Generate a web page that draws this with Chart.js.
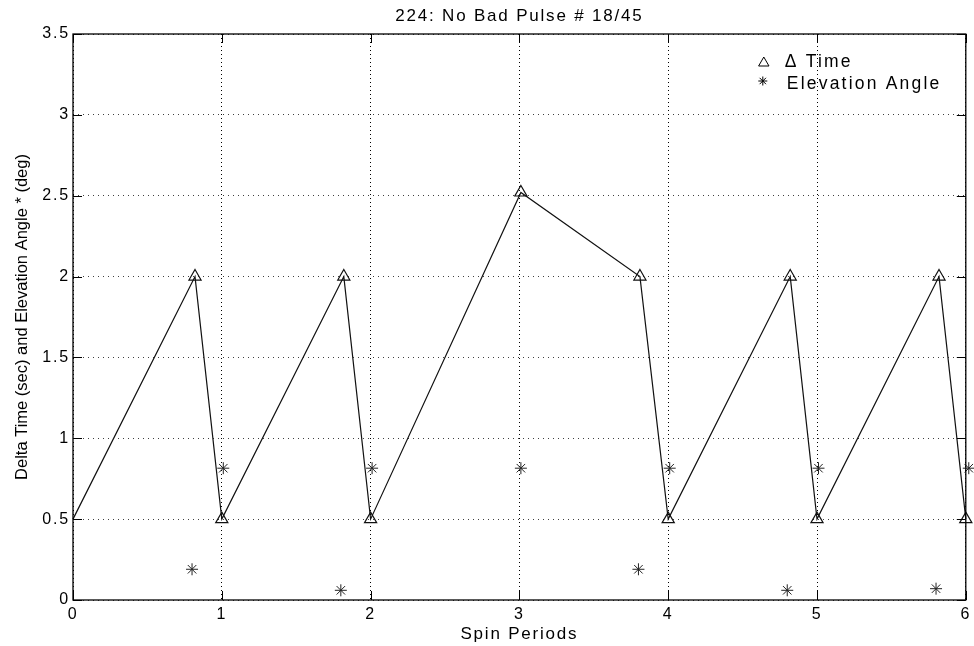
<!DOCTYPE html>
<html>
<head>
<meta charset="utf-8">
<script src="https://cdn.jsdelivr.net/npm/chart.js@4/dist/chart.umd.min.js"></script>
<style>
  html, body { margin: 0; padding: 0; background: #fff; }
  #wrap { width: 974px; height: 646px; }
</style>
</head>
<body>
<div id="wrap"><canvas id="c" width="974" height="646"></canvas></div>
<script>
// Labels
const chartTitle = '224: No Bad Pulse # 18/45';
const xAxisLabel = 'Spin Periods';
const yAxisLabel = 'Delta Time (sec) and Elevation Angle * (deg)';
const seriesNames = ['\u0394 Time', 'Elevation Angle'];

// Tick positions
const xTicks = [0, 1, 2, 3, 4, 5, 6];
const yTicks = [0, 0.5, 1, 1.5, 2, 2.5, 3, 3.5];

// Delta time per spin period (triangles joined by a line)
const deltaX    = [0, 0.82, 1.0, 1.82, 2.0, 3.01, 3.81, 4.0, 4.82, 5.0, 5.82, 6.0];
const deltaTime = [0.5, 2.0, 0.5, 2.0, 0.5, 2.52, 2.0, 0.5, 2.0, 0.5, 2.0, 0.5];

// Elevation angle (asterisks)
const elevX     = [0.80, 1.01, 1.80, 2.01, 3.01, 3.80, 4.01, 4.80, 5.01, 5.80, 6.02];
const elevAngle = [0.19, 0.815, 0.06, 0.815, 0.815, 0.19, 0.815, 0.06, 0.815, 0.07, 0.815];

const FONT = '"Liberation Sans", Arial, Helvetica, sans-serif';
const SPACING = '1.8px';
Chart.defaults.font.family = FONT;
Chart.defaults.color = '#000';

function drawTriangle(ctx, x, y, r) {
  ctx.beginPath();
  for (let i = 0; i < 3; i++) {
    const a = i * 2 * Math.PI / 3;
    const px = x + Math.sin(a) * r, py = y - Math.cos(a) * r;
    i === 0 ? ctx.moveTo(px, py) : ctx.lineTo(px, py);
  }
  ctx.closePath();
  ctx.stroke();
}
function drawAsterisk(ctx, x, y, r) {
  ctx.beginPath();
  for (let i = 0; i < 4; i++) {
    const a = i * Math.PI / 4;
    ctx.moveTo(x - Math.cos(a) * r, y - Math.sin(a) * r);
    ctx.lineTo(x + Math.cos(a) * r, y + Math.sin(a) * r);
  }
  ctx.stroke();
}

// Wider text tracking for the horizontal strings on the canvas
const tracking = {
  id: 'tracking',
  beforeUpdate(chart) { chart.ctx.letterSpacing = SPACING; },
  beforeDraw(chart) { chart.ctx.letterSpacing = SPACING; }
};

// Axes box, inward ticks on all sides, title, y-axis label and in-plot legend
const frame = {
  id: 'frame',
  afterDraw(chart) {
    const {ctx, chartArea: a, scales: {x, y}} = chart;
    ctx.save();
    ctx.strokeStyle = '#000';
    ctx.lineWidth = 1.3;
    ctx.setLineDash([]);
    ctx.strokeRect(a.left, a.top, a.right - a.left, a.bottom - a.top);
    const tl = 9;
    ctx.lineWidth = 1;
    ctx.beginPath();
    xTicks.forEach(v => {
      const px = Math.round(x.getPixelForValue(v)) + 0.5;
      ctx.moveTo(px, a.bottom); ctx.lineTo(px, a.bottom - tl);
      ctx.moveTo(px, a.top); ctx.lineTo(px, a.top + tl);
    });
    yTicks.forEach(v => {
      const py = Math.round(y.getPixelForValue(v)) + 0.5;
      ctx.moveTo(a.left, py); ctx.lineTo(a.left + tl, py);
      ctx.moveTo(a.right, py); ctx.lineTo(a.right - tl, py);
    });
    ctx.stroke();

    // title
    ctx.letterSpacing = SPACING;
    ctx.fillStyle = '#000';
    ctx.font = '17px ' + FONT;
    ctx.textAlign = 'center';
    ctx.textBaseline = 'middle';
    ctx.fillText(chartTitle, (a.left + a.right) / 2, 16);

    // legend
    const lx = a.right - 202, tx = a.right - 181;
    ctx.font = '17.5px ' + FONT;
    ctx.letterSpacing = '2.2px';
    ctx.lineWidth = 1;
    drawTriangle(ctx, lx, 63, 6);
    drawAsterisk(ctx, lx - 1, 81, 4.5);
    ctx.textAlign = 'left';
    ctx.fillText(seriesNames[0], tx, 62);
    ctx.fillText(seriesNames[1], tx + 2, 84);

    // y-axis label, rotated
    ctx.letterSpacing = '0px';
    ctx.font = '16.5px ' + FONT;
    ctx.textAlign = 'center';
    ctx.translate(22, (a.top + a.bottom) / 2);
    ctx.rotate(-Math.PI / 2);
    ctx.fillText(yAxisLabel, 0, 0);
    ctx.restore();
  }
};

new Chart(document.getElementById('c'), {
  type: 'scatter',
  data: {
    datasets: [
      {
        label: seriesNames[0],
        data: deltaX.map((v, i) => ({x: v, y: deltaTime[i]})),
        showLine: true,
        borderColor: '#111',
        borderWidth: 1.2,
        backgroundColor: 'rgba(0,0,0,0)',
        pointStyle: 'triangle',
        pointRadius: c => (c.dataIndex === 0 ? 0 : 7),
        pointBorderColor: '#111',
        pointBorderWidth: 1.2,
        pointBackgroundColor: 'rgba(0,0,0,0)',
        clip: false
      },
      {
        label: seriesNames[1],
        data: elevX.map((v, i) => ({x: v, y: elevAngle[i]})),
        showLine: false,
        pointStyle: 'star',
        pointRadius: 6,
        pointBorderColor: '#222',
        pointBorderWidth: 1,
        backgroundColor: 'rgba(0,0,0,0)',
        clip: false
      }
    ]
  },
  options: {
    responsive: false,
    animation: false,
    events: [],
    layout: { padding: { top: 34, right: 6, left: 0, bottom: 0 } },
    plugins: { legend: { display: false }, title: { display: false }, tooltip: { enabled: false } },
    scales: {
      x: {
        type: 'linear', min: 0, max: 6,
        afterBuildTicks: s => { s.ticks = xTicks.map(v => ({value: v})); },
        afterFit: s => { s.height = 46; s.paddingLeft = 0; s.paddingRight = 0; },
        grid: { color: '#000', lineWidth: 1, drawTicks: false },
        border: { display: false, dash: [1, 3] },
        ticks: { font: { size: 16 }, padding: 5, maxRotation: 0, callback: v => String(v) },
        title: { display: true, text: xAxisLabel, font: { size: 17 }, padding: { top: 0, bottom: 1 } }
      },
      y: {
        type: 'linear', min: 0, max: 3.5,
        afterBuildTicks: s => { s.ticks = yTicks.map(v => ({value: v})); },
        afterFit: s => { s.width = 73; s.paddingTop = 0; s.paddingBottom = 0; },
        grid: { color: 'rgba(0,0,0,0.75)', lineWidth: 1, drawTicks: false },
        border: { display: false, dash: [1, 4] },
        ticks: { font: { size: 16 }, padding: 3, callback: v => String(v) },
        title: { display: false }
      }
    }
  },
  plugins: [tracking, frame]
});
</script>
</body>
</html>
